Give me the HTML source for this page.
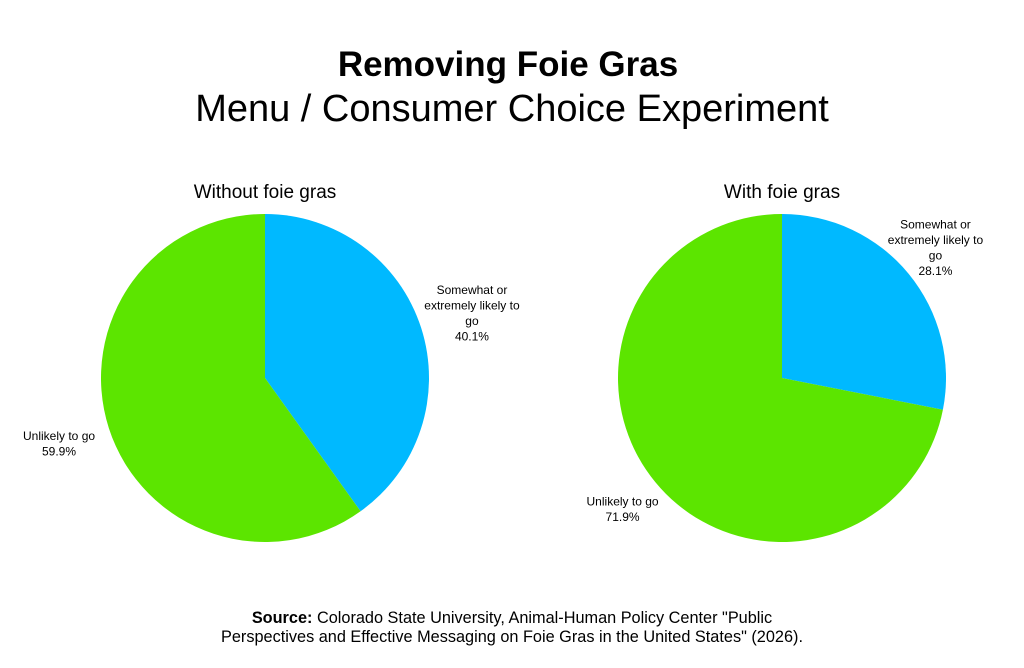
<!DOCTYPE html>
<html><head><meta charset="utf-8"><style>
body{margin:0;background:#fff;font-family:"Liberation Sans",sans-serif;}
</style></head><body>
<svg width="1024" height="663" viewBox="0 0 1024 663" font-family="Liberation Sans, sans-serif">
<text x="508" y="76" text-anchor="middle" font-size="35" font-weight="bold">Removing Foie Gras</text>
<text x="512" y="121" text-anchor="middle" font-size="38">Menu / Consumer Choice Experiment</text>
<g id="pies"></g>
<text x="512" y="623" text-anchor="middle" font-size="16.3"><tspan font-weight="bold">Source:</tspan> Colorado State University, Animal-Human Policy Center "Public</text>
<text x="512" y="642" text-anchor="middle" font-size="16.3">Perspectives and Effective Messaging on Foie Gras in the United States" (2026).</text>
</svg>
<script>
const pieTitles = ["Without foie gras", "With foie gras"];
const likelyValues = [40.1, 28.1];
const unlikelyValues = [59.9, 71.9];
const centersX = [265, 782];
const cy = 378, r = 164;
const NS = "http://www.w3.org/2000/svg";
const g = document.getElementById("pies");
const likelyOff = [[8,-20],[-8,-17]];
const unlikelyOff = [[-7,-2],[2,-5]];
function pt(cx, frac, rr){const a = frac*2*Math.PI; return [cx + rr*Math.sin(a), cy - rr*Math.cos(a)];}
function slice(cx, f0, f1, color, name){
  const p = document.createElementNS(NS, "path");
  const [x0,y0]=pt(cx,f0,r),[x1,y1]=pt(cx,f1,r);
  const large = (f1-f0)>0.5?1:0;
  p.setAttribute("d", `M${cx},${cy} L${x0},${y0} A${r},${r} 0 ${large} 1 ${x1},${y1} Z`);
  p.setAttribute("fill", color);
  
  
  g.appendChild(p);
}
function label(x, y, lines, name){
  const t = document.createElementNS(NS, "text");
  t.setAttribute("x", x); t.setAttribute("y", y); t.setAttribute("text-anchor","middle"); t.setAttribute("font-size","12");
  
  
  lines.forEach((l,i)=>{const s=document.createElementNS(NS,"tspan"); s.setAttribute("x",x); s.setAttribute("dy", i?15.5:0); s.textContent=l; t.appendChild(s);});
  g.appendChild(t);
}
pieTitles.forEach((title,i)=>{
  const cx = centersX[i];
  const lf = likelyValues[i]/(likelyValues[i]+unlikelyValues[i]);
  slice(cx, 0, lf, "#00b9ff", "slice-likely-"+i);
  slice(cx, lf, 1, "#5ce500", "slice-unlikely-"+i);
  const tt = document.createElementNS(NS,"text");
  tt.setAttribute("x", cx); tt.setAttribute("y", 198); tt.setAttribute("text-anchor","middle"); tt.setAttribute("font-size","19");
  
  
  tt.textContent = title; g.appendChild(tt);
  const [lx,ly] = pt(cx, lf/2, r+45);
  label(lx+likelyOff[i][0], ly+likelyOff[i][1], ["Somewhat or","extremely likely to","go", likelyValues[i].toFixed(1)+"%"], "label-likely-"+i);
  const [ux,uy] = pt(cx, lf+(1-lf)/2, r+45);
  label(ux+unlikelyOff[i][0], uy+unlikelyOff[i][1], ["Unlikely to go", unlikelyValues[i].toFixed(1)+"%"], "label-unlikely-"+i);
});
</script>
</body></html>
